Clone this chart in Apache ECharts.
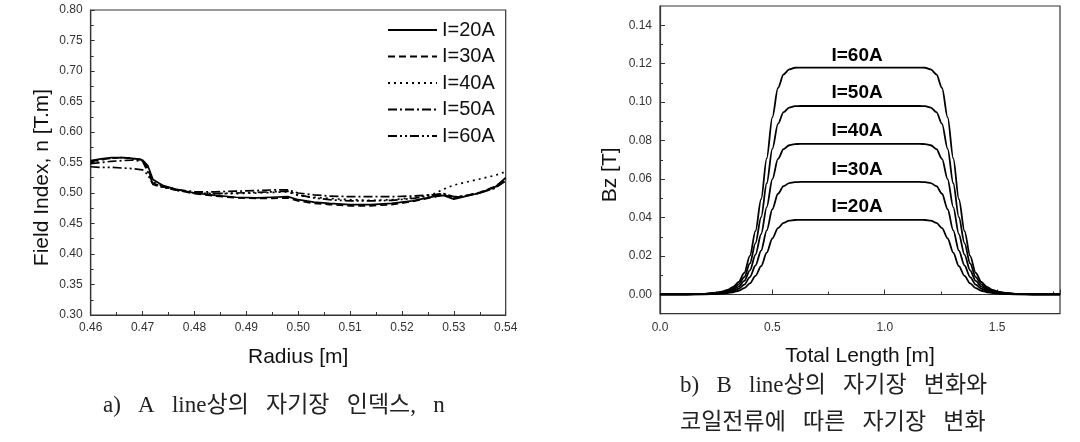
<!DOCTYPE html>
<html>
<head>
<meta charset="utf-8">
<script src="https://cdn.jsdelivr.net/npm/echarts@6/dist/echarts.min.js"></script>
<style>
html,body{margin:0;padding:0;background:#fff;}
#c{width:1080px;height:442px;}
</style>
</head>
<body>
<div id="c"></div>
<script>
// ---------- Chart a) Field index vs radius ----------
const radius = [0.460, 0.462, 0.464, 0.466, 0.468, 0.470, 0.471, 0.472, 0.474, 0.477, 0.480, 0.484, 0.488, 0.492, 0.495, 0.498, 0.500, 0.503, 0.506, 0.510, 0.514, 0.518, 0.522, 0.526, 0.528, 0.530, 0.532, 0.535, 0.538, 0.540];
const n20 = [0.553, 0.556, 0.558, 0.558, 0.557, 0.554, 0.545, 0.522, 0.512, 0.505, 0.500, 0.496, 0.493, 0.492, 0.493, 0.494, 0.489, 0.485, 0.483, 0.481, 0.481, 0.483, 0.487, 0.494, 0.496, 0.490, 0.494, 0.500, 0.510, 0.525];
const n30 = [0.551, 0.555, 0.557, 0.558, 0.557, 0.555, 0.540, 0.516, 0.510, 0.504, 0.499, 0.495, 0.492, 0.491, 0.491, 0.492, 0.487, 0.483, 0.481, 0.479, 0.479, 0.481, 0.486, 0.493, 0.497, 0.492, 0.495, 0.501, 0.511, 0.522];
const n40 = [0.550, 0.554, 0.557, 0.558, 0.556, 0.554, 0.541, 0.518, 0.511, 0.505, 0.501, 0.499, 0.499, 0.500, 0.501, 0.502, 0.496, 0.493, 0.491, 0.489, 0.488, 0.489, 0.492, 0.498, 0.506, 0.513, 0.517, 0.523, 0.529, 0.535];
const n50 = [0.548, 0.550, 0.552, 0.553, 0.554, 0.552, 0.535, 0.515, 0.510, 0.505, 0.502, 0.502, 0.503, 0.504, 0.505, 0.505, 0.500, 0.497, 0.495, 0.494, 0.494, 0.494, 0.495, 0.497, 0.499, 0.494, 0.495, 0.500, 0.508, 0.520];
const n60 = [0.543, 0.542, 0.542, 0.541, 0.540, 0.538, 0.530, 0.514, 0.509, 0.504, 0.500, 0.499, 0.500, 0.501, 0.502, 0.503, 0.497, 0.492, 0.489, 0.487, 0.487, 0.488, 0.491, 0.496, 0.499, 0.493, 0.495, 0.500, 0.509, 0.521];
const seriesNamesA = ['I=20A', 'I=30A', 'I=40A', 'I=50A', 'I=60A'];

// ---------- Chart b) Bz vs total length ----------
const lengthM = [0, 0.1, 0.2, 0.25, 0.275, 0.3, 0.325, 0.35, 0.375, 0.4, 0.425, 0.45, 0.475, 0.5, 0.525, 0.55, 0.575, 0.6, 0.625, 0.65, 0.75, 0.85, 0.95, 1.05, 1.13, 1.155, 1.18, 1.205, 1.23, 1.255, 1.28, 1.305, 1.33, 1.355, 1.38, 1.405, 1.43, 1.455, 1.48, 1.505, 1.53, 1.58, 1.68, 1.78];
const bz20 = [0, 0.00002, 0.00012, 0.00027, 0.00043, 0.0007, 0.00116, 0.00194, 0.0033, 0.00582, 0.0097, 0.01474, 0.02173, 0.0291, 0.03453, 0.03725, 0.03841, 0.03872, 0.0388, 0.0388, 0.0388, 0.0388, 0.0388, 0.0388, 0.0388, 0.0388, 0.03872, 0.03841, 0.03725, 0.03453, 0.0291, 0.02173, 0.01474, 0.0097, 0.00582, 0.0033, 0.00194, 0.00116, 0.0007, 0.00043, 0.00027, 0.00012, 0.00002, 0];
const bz30 = [0, 0.00003, 0.00018, 0.00043, 0.00066, 0.00108, 0.00181, 0.00298, 0.00512, 0.00907, 0.01506, 0.02282, 0.03335, 0.04431, 0.05236, 0.05631, 0.05794, 0.05838, 0.0585, 0.0585, 0.0585, 0.0585, 0.0585, 0.0585, 0.0585, 0.0585, 0.05838, 0.05794, 0.05631, 0.05236, 0.04431, 0.03335, 0.02282, 0.01506, 0.00907, 0.00512, 0.00298, 0.00181, 0.00108, 0.00066, 0.00043, 0.00018, 0.00003, 0];
const bz40 = [0, 0.00004, 0.00023, 0.00059, 0.0009, 0.00149, 0.00247, 0.00411, 0.00705, 0.01253, 0.02075, 0.03132, 0.04541, 0.0599, 0.07047, 0.07556, 0.0776, 0.07818, 0.0783, 0.0783, 0.0783, 0.0783, 0.0783, 0.0783, 0.0783, 0.0783, 0.07818, 0.0776, 0.07556, 0.07047, 0.0599, 0.04541, 0.03132, 0.02075, 0.01253, 0.00705, 0.00411, 0.00247, 0.00149, 0.0009, 0.00059, 0.00023, 0.00004, 0];
const bz50 = [0, 0.00005, 0.00029, 0.00076, 0.00116, 0.00191, 0.00314, 0.00529, 0.00907, 0.01617, 0.0267, 0.04018, 0.05782, 0.07571, 0.08869, 0.09482, 0.09717, 0.0979, 0.098, 0.098, 0.098, 0.098, 0.098, 0.098, 0.098, 0.098, 0.0979, 0.09717, 0.09482, 0.08869, 0.07571, 0.05782, 0.04018, 0.0267, 0.01617, 0.00907, 0.00529, 0.00314, 0.00191, 0.00116, 0.00076, 0.00029, 0.00005, 0];
const bz60 = [0, 0.00006, 0.00035, 0.00094, 0.00142, 0.00236, 0.00389, 0.00649, 0.01121, 0.02006, 0.03304, 0.04956, 0.0708, 0.09204, 0.10738, 0.11446, 0.11706, 0.11788, 0.118, 0.118, 0.118, 0.118, 0.118, 0.118, 0.118, 0.118, 0.11788, 0.11706, 0.11446, 0.10738, 0.09204, 0.0708, 0.04956, 0.03304, 0.02006, 0.01121, 0.00649, 0.00389, 0.00236, 0.00142, 0.00094, 0.00035, 0.00006, 0];
const bzLabels = ['I=20A', 'I=30A', 'I=40A', 'I=50A', 'I=60A'];
const bzLabelX = 0.877;
const bzLabelY = [0.0456, 0.065, 0.0852, 0.105, 0.124];
const bzTickValues = [0, 0.02, 0.04, 0.06, 0.08, 0.10, 0.12, 0.14];
const bzMinorTickValues = [0.01, 0.03, 0.05, 0.07, 0.09, 0.11, 0.13];

// captions
const captionA = 'a)   A   line상의   자기장   인덱스,   n';
const captionB1 = 'b)   B   line상의   자기장   변화와';
const captionB2 = '코일전류에   따른   자기장   변화';

const SANS = '"Liberation Sans", Arial, sans-serif';
const SERIF = '"Liberation Serif", "Noto Sans CJK KR", serif';
const AXC = '#333';

const dashTypes = ['solid', [7, 4], [2, 4], [9, 3, 2, 3], [9, 3, 2, 3, 2, 3]];
const nData = [n20, n30, n40, n50, n60];
const bzData = [bz20, bz30, bz40, bz50, bz60];

const seriesA = nData.map((arr, i) => ({
  name: seriesNamesA[i],
  type: 'line',
  xAxisIndex: 0, yAxisIndex: 0,
  symbol: 'none',
  data: radius.map((x, j) => [x, arr[j]]),
  lineStyle: { color: '#000', width: 1.7, type: dashTypes[i] },
  itemStyle: { color: '#000' },
  z: 5 - i
}));

const seriesB = bzData.map((arr, i) => ({
  name: 'Bz ' + bzLabels[i],
  type: 'line',
  xAxisIndex: 1, yAxisIndex: 1,
  symbol: 'none',
  smooth: 0.3,
  smoothMonotone: 'x',
  data: lengthM.map((x, j) => [x, arr[j]]),
  lineStyle: { color: '#000', width: 1.8 },
  itemStyle: { color: '#000' },
  markPoint: {
    symbol: 'circle', symbolSize: 0, silent: true,
    label: { show: true, position: 'inside', formatter: bzLabels[i], fontFamily: SANS, fontWeight: 'bold', fontSize: 19, color: '#000' },
    data: [{ coord: [bzLabelX, bzLabelY[i]] }]
  }
}));

const capStyle = { fontFamily: SERIF, fontSize: 23, fontWeight: 'normal', color: '#222' };

const chart = echarts.init(document.getElementById('c'), null, { renderer: 'canvas' });
chart.setOption({
  animation: false,
  backgroundColor: '#fff',
  title: [
    { text: captionA, left: 103, top: 394, padding: 0, textStyle: capStyle },
    { text: captionB1, left: 680, top: 374, padding: 0, textStyle: capStyle },
    { text: captionB2, left: 680, top: 411, padding: 0, textStyle: capStyle }
  ],
  legend: {
    data: seriesNamesA,
    orient: 'vertical',
    left: 387, top: 20, padding: 0,
    itemWidth: 49, itemHeight: 14, itemGap: 6.5,
    itemStyle: { opacity: 0 },
    textStyle: { fontFamily: SANS, fontSize: 20, color: '#111' },
    selectedMode: false
  },
  grid: [
    { left: 90.7, top: 10, width: 415, height: 305, show: true, borderColor: AXC, borderWidth: 1.2, backgroundColor: 'transparent' },
    { left: 660, top: 6, width: 400, height: 307.7, show: true, borderColor: AXC, borderWidth: 1.2, backgroundColor: 'transparent' }
  ],
  xAxis: [
    {
      type: 'value', gridIndex: 0, min: 0.46, max: 0.54, interval: 0.01,
      name: 'Radius [m]', nameLocation: 'middle', nameGap: 32,
      nameTextStyle: { fontFamily: SANS, fontSize: 21, color: '#111' },
      axisLine: { show: true, lineStyle: { color: AXC, width: 1.2 } },
      axisTick: { show: true, inside: true, length: 4, lineStyle: { color: AXC } },
      minorTick: { show: true, splitNumber: 2, length: 3, lineStyle: { color: AXC } },
      splitLine: { show: false },
      axisLabel: { fontFamily: SANS, fontSize: 12, color: '#333', margin: 7, formatter: v => v.toFixed(2) }
    },
    {
      type: 'value', gridIndex: 1, min: 0, max: 1.78, interval: 0.5,
      name: 'Total Length [m]', nameLocation: 'middle', nameGap: 32,
      nameTextStyle: { fontFamily: SANS, fontSize: 21, color: '#111' },
      axisLine: { show: true, lineStyle: { color: AXC, width: 1.2 } },
      axisTick: { show: true, inside: true, length: 5, lineStyle: { color: AXC } },
      minorTick: { show: true, splitNumber: 2, length: 3, lineStyle: { color: AXC } },
      splitLine: { show: false },
      axisLabel: { fontFamily: SANS, fontSize: 12, color: '#333', margin: 8, showMaxLabel: false, formatter: v => v.toFixed(1) }
    }
  ],
  yAxis: [
    {
      type: 'value', gridIndex: 0, min: 0.3, max: 0.8, interval: 0.05,
      name: 'Field Index, n [T.m]', nameLocation: 'middle', nameGap: 38, nameRotate: 90,
      nameTextStyle: { fontFamily: SANS, fontSize: 21, color: '#111', padding: [0, 30, 0, 0] },
      axisLine: { show: true, lineStyle: { color: AXC, width: 1.2 } },
      axisTick: { show: true, inside: true, length: 4, lineStyle: { color: AXC } },
      minorTick: { show: true, splitNumber: 2, length: 3, lineStyle: { color: AXC } },
      splitLine: { show: false },
      axisLabel: { fontFamily: SANS, fontSize: 12, color: '#333', margin: 8, formatter: v => v.toFixed(2) }
    },
    {
      type: 'value', gridIndex: 1, min: -0.01, max: 0.15, interval: 0.01,
      name: 'Bz [T]', nameLocation: 'middle', nameGap: 39, nameRotate: 90,
      nameTextStyle: { fontFamily: SANS, fontSize: 21, color: '#111', padding: [0, 30, 0, 0] },
      axisLine: { show: true, lineStyle: { color: AXC, width: 1.2 } },
      axisTick: { show: true, inside: true, length: 5, customValues: bzTickValues, lineStyle: { color: AXC } },
      splitLine: { show: false },
      axisLabel: { fontFamily: SANS, fontSize: 12, color: '#333', margin: 8, customValues: bzTickValues, formatter: v => v.toFixed(2) }
    },
    {
      type: 'value', gridIndex: 1, min: -0.01, max: 0.15, interval: 0.01, position: 'left',
      axisLine: { show: false },
      axisTick: { show: true, inside: true, length: 3, customValues: bzMinorTickValues, lineStyle: { color: AXC } },
      splitLine: { show: false },
      axisLabel: { show: false }
    }
  ],
  series: seriesA.concat(seriesB)
});
</script>
</body>
</html>
